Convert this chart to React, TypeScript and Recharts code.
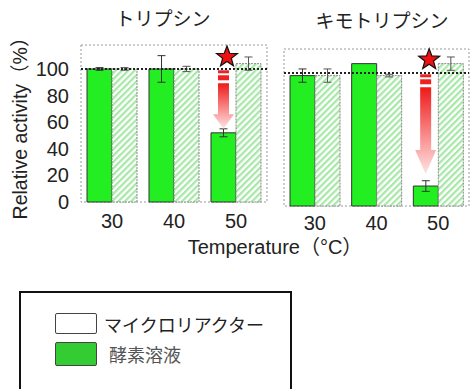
import React from "react";
import {Bar, ComposedChart, ErrorBar, ReferenceArea, ReferenceDot, ReferenceLine, XAxis, YAxis} from "recharts";

const categories = ["30", "40", "50"];
const yTicks = [0, 20, 40, 60, 80, 100];
const panelTitles = ["トリプシン", "キモトリプシン"];
const seriesNames = ["マイクロリアクター", "酵素溶液"];

// トリプシン
const trypSolution = [100, 100, 52];
const trypSolutionErr = [1, 10, 3];
const trypReactor = [100, 100, 104];
const trypReactorErr = [1, 2, 5];

// キモトリプシン
const chymoSolution = [98, 107, 15];
const chymoSolutionErr = [5, 0, 4];
const chymoReactor = [98, 98, 107];
const chymoReactorErr = [5, 1, 5];

// annotations (value units)
const starValue = [109, 110];
const arrowFrom = 99;
const arrowTo = [55, 24];

const FONT = "'Liberation Sans', 'Noto Sans CJK JP', sans-serif";
const GREEN = "#22ee22";

function rows(sol: number[], solErr: number[], rea: number[], reaErr: number[]) {
    return categories.map((c, i) => ({
        temp: c,
        solution: sol[i],
        solutionErr: solErr[i],
        reactor: rea[i],
        reactorErr: reaErr[i],
    }));
}

function Star(props: any) {
    const cx = props.cx - 9, cy = props.cy;
    const pts: string[] = [];
    for (let i = 0; i < 10; i++) {
        const r = i % 2 === 0 ? 11 : 4.6;
        const a = -Math.PI / 2 + i * Math.PI / 5;
        pts.push(`${cx + r * Math.cos(a)},${cy + r * Math.sin(a)}`);
    }
    return <polygon points={pts.join(" ")} fill="#ee1111" stroke="#111" strokeWidth={1.2} />;
}

function Arrow(props: any) {
    const x = props.x1 - 12.5;
    const top = props.y1, tip = props.y2;
    const len = tip - top;
    const head = Math.min(24, len * 0.25);
    const shaftTop = top + 13;
    const sw = 5.5, hw = 10.5;
    const d = `M${x - sw},${shaftTop} L${x + sw},${shaftTop} L${x + sw},${tip - head} L${x + hw},${tip - head} L${x},${tip} L${x - hw},${tip - head} L${x - sw},${tip - head} Z`;
    return <g>
        <rect x={x - sw} y={top} width={sw * 2} height={3} fill="#ee2222" />
        <rect x={x - sw} y={top + 5} width={sw * 2} height={5} fill="#ee2222" />
        <path d={d} fill="url(#arrowGrad)" />
    </g>;
}

function Panel(props: any) {
    const {data, idx, width, margin, showY, xHeight} = props;
    return <ComposedChart width={width} height={260} data={data} margin={margin} barGap={0} barSize={25}>
        <XAxis dataKey="temp" axisLine={false} tickLine={false} tickSize={0} tickMargin={showY ? 12 : 10}
               height={xHeight} tick={{fontSize: 20, fill: "#222", fontFamily: FONT}} />
        <YAxis domain={[0, 118]} ticks={yTicks} interval={0} hide={!showY} width={81} axisLine={false} tickLine={false}
               tickSize={0} tickMargin={12} tick={{fontSize: 20, fill: "#222", fontFamily: FONT}}
               label={showY ? {value: "Relative activity（%）", angle: -90, position: "insideLeft", offset: 20,
                   style: {textAnchor: "middle", fontSize: 19.5, fill: "#222", fontFamily: FONT}} : undefined} />
        <ReferenceArea y1={0} y2={118} fill="none" stroke="#999" strokeDasharray="2 2" />
        <Bar dataKey="solution" name={seriesNames[1]} fill={GREEN} stroke="#333" strokeWidth={1} isAnimationActive={false}>
            <ErrorBar dataKey="solutionErr" width={4} stroke="#333" strokeWidth={1} />
        </Bar>
        <Bar dataKey="reactor" name={seriesNames[0]} fill="url(#hatch)" stroke="#888" strokeDasharray="2 1"
             strokeWidth={1} isAnimationActive={false}>
            <ErrorBar dataKey="reactorErr" width={4} stroke="#555" strokeWidth={1} />
        </Bar>
        <ReferenceLine y={100} stroke="#222" strokeWidth={2} strokeDasharray="2 2" />
        <ReferenceLine segment={[{x: "50", y: arrowFrom}, {x: "50", y: arrowTo[idx]}]} shape={Arrow} />
        <ReferenceDot x="50" y={starValue[idx]} r={11} shape={Star} />
    </ComposedChart>;
}

export default function App() {
    const trypData = rows(trypSolution, trypSolutionErr, trypReactor, trypReactorErr);
    const chymoData = rows(chymoSolution, chymoSolutionErr, chymoReactor, chymoReactorErr);
    const legendFills = ["#ffffff", "#33cc33"];
    const title = (text: string, cx: number, cy: number) =>
        <div style={{position: "absolute", left: cx - 100, top: cy - 12, width: 200, textAlign: "center",
            lineHeight: "24px", fontSize: 19, color: "#222", fontFamily: FONT}}>{text}</div>;
    return <div style={{position: "absolute", left: 0, top: 0, width: 470, height: 389, overflow: "hidden",
        background: "#fff", fontFamily: FONT}}>
        <svg width={0} height={0} style={{position: "absolute"}}>
            <defs>
                <pattern id="hatch" patternUnits="userSpaceOnUse" width={4.5} height={4.5} patternTransform="rotate(45)">
                    <rect width={4.5} height={4.5} fill="#fff" />
                    <rect width={2.2} height={4.5} fill="#a6e8a6" />
                </pattern>
                <linearGradient id="arrowGrad" x1="0" y1="0" x2="0" y2="1">
                    <stop offset="0" stopColor="#ee1a1a" />
                    <stop offset="0.55" stopColor="#f98a8a" />
                    <stop offset="1" stopColor="#ffe4e4" />
                </linearGradient>
            </defs>
        </svg>
        {title(panelTitles[0], 163, 20)}
        {title(panelTitles[1], 382, 22)}
        <div style={{position: "absolute", left: 0, top: 0}}>
            <Panel data={trypData} idx={0} width={270} showY xHeight={58}
                   margin={{top: 45, right: 3, bottom: 0, left: 0}} />
        </div>
        <div style={{position: "absolute", left: 270, top: 0}}>
            <Panel data={chymoData} idx={1} width={200} showY={false} xHeight={54}
                   margin={{top: 49, right: 1, bottom: 0, left: 14}} />
        </div>
        <div style={{position: "absolute", left: 175, top: 235, width: 200, textAlign: "center", lineHeight: "24px",
            fontSize: 20, color: "#222", whiteSpace: "nowrap"}}>Temperature（°C）</div>
        <div style={{position: "absolute", left: 19, top: 291, width: 269, height: 110, border: "2px solid #111"}}>
            {seriesNames.map((n, i) =>
                <div key={n} style={{position: "absolute", left: 34, top: i === 0 ? 20 : 49, height: i === 0 ? 21 : 24,
                    display: "flex", alignItems: "center"}}>
                    <div style={{width: 40, height: i === 0 ? 19 : 22, background: legendFills[i],
                        border: "1.5px solid #444", borderRadius: 2}} />
                    <span style={{marginLeft: i === 0 ? 7 : 12, fontSize: 18, color: i === 0 ? "#222" : "#555",
                        whiteSpace: "nowrap"}}>{n}</span>
                </div>)}
        </div>
    </div>;
}
